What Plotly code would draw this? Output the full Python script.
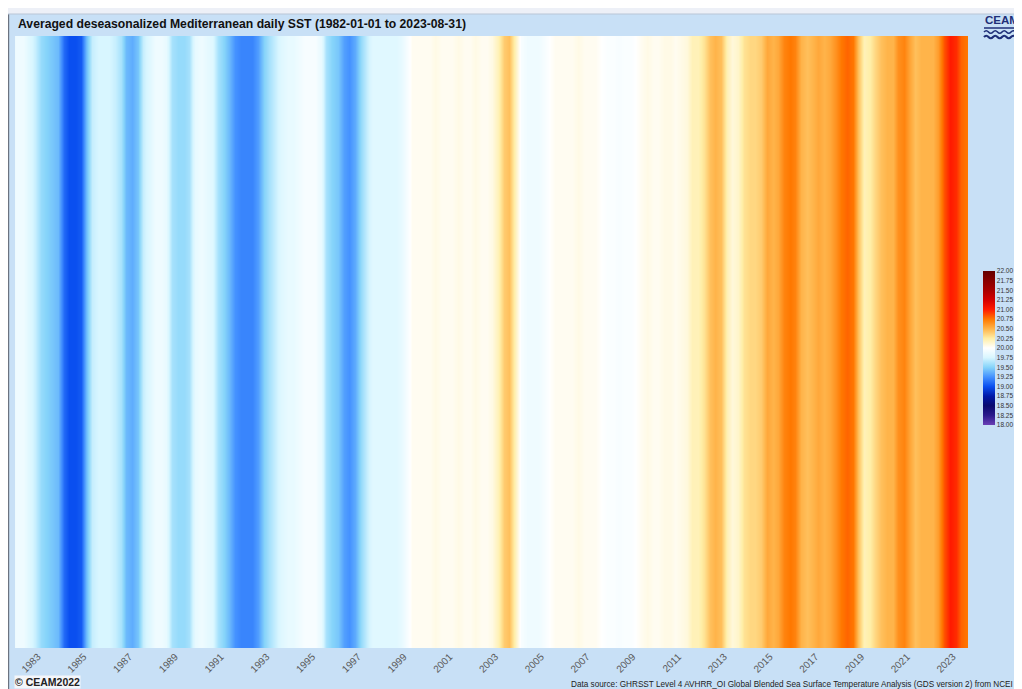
import plotly.graph_objects as go

# ---------------- data (quarterly mean SST, deg C, read from the stripes) -------------
quarter_days = ["02-15", "05-15", "08-15", "11-15"]

sst_1980s = [  # 1982 .. 1989
    19.90, 19.90, 19.80, 19.70,
    19.55, 19.50, 19.45, 19.40,
    19.10, 19.00, 19.00, 19.05,
    19.40, 19.70, 19.75, 19.75,
    19.75, 19.70, 19.60, 19.40,
    19.35, 19.45, 19.70, 19.80,
    19.90, 19.90, 19.85, 19.60,
    19.55, 19.55, 19.60, 19.85,
]
sst_1990s = [  # 1990 .. 1999
    19.90, 19.85, 19.80, 19.60,
    19.50, 19.40, 19.25, 19.20,
    19.20, 19.20, 19.30, 19.50,
    19.60, 19.70, 19.80, 19.85,
    19.85, 19.90, 19.95, 19.95,
    19.95, 19.85, 19.60, 19.50,
    19.45, 19.30, 19.25, 19.35,
    19.55, 19.70, 19.80, 19.80,
    19.80, 19.80, 19.80, 19.85,
    19.95, 20.04, 20.04, 20.04,
]
sst_2000s = [  # 2000 .. 2009
    20.04, 20.07, 20.04, 20.04,
    20.04, 20.07, 20.04, 20.04,
    20.07, 20.04, 20.04, 20.08,
    20.20, 20.40, 20.45, 20.20,
    19.95, 19.90, 19.90, 19.90,
    19.95, 20.00, 20.04, 20.04,
    20.04, 20.04, 20.07, 20.04,
    20.04, 20.04, 20.00, 19.97,
    19.97, 19.95, 19.97, 19.97,
    20.00, 20.04, 20.07, 20.04,
]
sst_2010s = [  # 2010 .. 2019
    20.04, 20.07, 20.07, 20.04,
    20.07, 20.10, 20.20, 20.20,
    20.30, 20.45, 20.50, 20.45,
    20.20, 20.10, 20.15, 20.30,
    20.35, 20.35, 20.40, 20.55,
    20.50, 20.55, 20.70, 20.75,
    20.70, 20.50, 20.45, 20.50,
    20.55, 20.50, 20.55, 20.65,
    20.75, 20.80, 20.75, 20.45,
    20.20, 20.25, 20.35, 20.45,
]
sst_2020s = [  # 2020 .. 2023 (to August)
    20.50, 20.50, 20.65, 20.70,
    20.55, 20.45, 20.50, 20.50,
    20.50, 20.60, 20.85, 21.00,
    20.95, 20.80, 20.75,
]
first_year = 1982
tick_years = list(range(1983, 2024, 2))
cbar_ticks = [18 + 0.25 * i for i in range(17)]

# ---------------- build series ----------------
values = sst_1980s + sst_1990s + sst_2000s + sst_2010s + sst_2020s
dates = []
for i in range(len(values)):
    y = first_year + i // 4
    dates.append(f"{y}-{quarter_days[i % 4]}")

colorscale = [
    [0.0000, "#6a3fb5"],
    [0.0625, "#2a1a8c"],
    [0.1250, "#0a0a6e"],
    [0.1875, "#0018a8"],
    [0.2500, "#0a4ff0"],
    [0.3125, "#4592ff"],
    [0.3750, "#86d4fa"],
    [0.4375, "#d8f6ff"],
    [0.5000, "#ffffff"],
    [0.5625, "#ffeea6"],
    [0.6250, "#ffb44a"],
    [0.6875, "#ff7800"],
    [0.7500, "#ff1a00"],
    [0.8125, "#d40000"],
    [0.8750, "#a80000"],
    [0.9375, "#880000"],
    [1.0000, "#640000"],
]

# reference-pixel geometry (the page body adds an 8px offset)
OFF = 8
W_REF, H_REF = 1022, 689
L, R, T, B = 15, 968, 36, 648


def px(xp):
    return (xp - L) / (R - L)


def py(yp):
    return (B - yp) / (B - T)


fig = go.Figure(
    go.Heatmap(
        x=dates,
        y=[0, 1],
        z=[values, values],
        zmin=18,
        zmax=22,
        zsmooth="best",
        colorscale=colorscale,
        hoverinfo="skip",
        colorbar=dict(
            x=px(983),
            xanchor="left",
            xpad=0,
            ypad=0,
            y=py(348),
            yanchor="middle",
            lenmode="pixels",
            len=154,
            thickness=12,
            outlinewidth=0,
            tickvals=cbar_ticks,
            ticktext=[f"{v:.2f}" for v in cbar_ticks],
            tickfont=dict(family="Liberation Sans, Arial", size=6.5, color="#333333"),
            ticks="",
        ),
    )
)


def wave(y0, amp, x0=984, x1=1020, n=4):
    seg = (x1 - x0) / (n * 2)
    d = f"M {px(x0)},{py(y0)}"
    x = x0
    for k in range(n * 2):
        sign = -1 if k % 2 == 0 else 1
        cx = x + seg / 2
        x += seg
        d += f" Q {px(cx)},{py(y0 + sign * amp)} {px(x)},{py(y0)}"
    return d


shapes = [
    dict(type="rect", xref="paper", yref="paper", x0=px(0), x1=px(1030),
         y0=py(14), y1=py(0), fillcolor="#edf0f7", line=dict(width=0), layer="below"),
    dict(type="line", xref="paper", yref="paper", x0=px(8.6), x1=px(8.6),
         y0=py(14), y1=py(700), line=dict(color="#6b7380", width=1.2)),
    dict(type="line", xref="paper", yref="paper", x0=px(8), x1=px(1030),
         y0=py(14), y1=py(14), line=dict(color="#b9c6d6", width=1)),
    dict(type="line", xref="paper", yref="paper", x0=px(984), x1=px(1020),
         y0=py(28), y1=py(28), line=dict(color="#1f2f78", width=1.5)),
    dict(type="path", xref="paper", yref="paper", path=wave(32, 2.5),
         line=dict(color="#1f2f78", width=1.6)),
    dict(type="path", xref="paper", yref="paper", path=wave(37, 2.5),
         line=dict(color="#1f2f78", width=2.2)),
]

annotations = [
    dict(text="<b>Averaged deseasonalized Mediterranean daily SST (1982-01-01 to 2023-08-31)</b>",
         xref="paper", yref="paper", x=px(16), y=py(24), xanchor="left", yanchor="middle",
         showarrow=False, font=dict(family="Liberation Sans, Arial", size=12.2, color="#111111")),
    dict(text="<b>CEAM</b>", xref="paper", yref="paper", x=px(983), y=py(20),
         xanchor="left", yanchor="middle", showarrow=False,
         font=dict(family="Liberation Sans, Arial", size=11.5, color="#1f2f78")),
    dict(text="<b>© CEAM2022</b>", xref="paper", yref="paper", x=px(14), y=py(682),
         xanchor="left", yanchor="middle", showarrow=False, bgcolor="#f4f6fa",
         borderpad=0, font=dict(family="Liberation Sans, Arial", size=10.5, color="#222222")),
    dict(text="Data source: GHRSST Level 4 AVHRR_OI Global Blended Sea Surface Temperature Analysis (GDS version 2) from NCEI",
         xref="paper", yref="paper", x=px(1015), y=py(684), xanchor="right", yanchor="middle",
         showarrow=False, font=dict(family="Liberation Sans, Arial", size=8.2, color="#222222")),
]

fig.update_layout(
    width=W_REF - OFF,
    height=H_REF - OFF,
    margin=dict(l=L - OFF, r=W_REF - R, t=T - OFF, b=H_REF - B, pad=0),
    paper_bgcolor="#c8e0f6",
    plot_bgcolor="#c8e0f6",
    shapes=shapes,
    annotations=annotations,
    xaxis=dict(
        type="date",
        range=["1982-01-01", "2023-08-31"],
        tickvals=[f"{y}-01-01" for y in tick_years],
        ticktext=[str(y) for y in tick_years],
        tickangle=-45,
        tickfont=dict(family="Liberation Sans, Arial", size=10, color="#5a5a5a"),
        ticks="",
        showgrid=False,
        zeroline=False,
        showline=False,
    ),
    yaxis=dict(range=[-0.5, 1.5], visible=False, showgrid=False, zeroline=False),
)

fig.write_html("out.html")
